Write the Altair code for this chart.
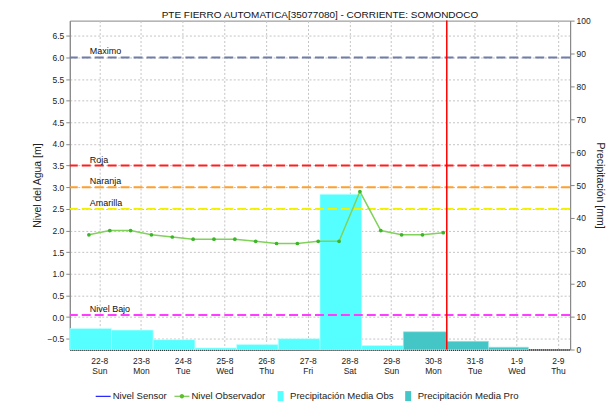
import altair as alt
import pandas as pd

TITLE = "PTE FIERRO AUTOMATICA[35077080] - CORRIENTE: SOMONDOCO"
FONT = "Liberation Sans"

# Nivel Observador (m), readings at 06:00 / 18:00
obs_times = ["2021-08-21T18:00:00Z", "2021-08-22T06:00:00Z", "2021-08-22T18:00:00Z",
             "2021-08-23T06:00:00Z", "2021-08-23T18:00:00Z", "2021-08-24T06:00:00Z",
             "2021-08-24T18:00:00Z", "2021-08-25T06:00:00Z", "2021-08-25T18:00:00Z",
             "2021-08-26T06:00:00Z", "2021-08-26T18:00:00Z", "2021-08-27T06:00:00Z",
             "2021-08-27T18:00:00Z", "2021-08-28T06:00:00Z", "2021-08-28T18:00:00Z",
             "2021-08-29T06:00:00Z", "2021-08-29T18:00:00Z", "2021-08-30T06:00:00Z"]
obs_levels = [1.9, 2.0, 2.0, 1.9, 1.85, 1.8, 1.8, 1.8, 1.75, 1.7, 1.7, 1.75, 1.75,
              2.9, 2.0, 1.9, 1.9, 1.95]

# Precipitación Media Obs (mm)
pobs_start = ["2021-08-21T07:00:00Z", "2021-08-22T07:00:00Z", "2021-08-23T07:00:00Z",
              "2021-08-24T07:00:00Z", "2021-08-25T07:00:00Z", "2021-08-26T07:00:00Z",
              "2021-08-27T07:00:00Z", "2021-08-28T07:00:00Z"]
pobs_end = ["2021-08-22T07:00:00Z", "2021-08-23T07:00:00Z", "2021-08-24T07:00:00Z",
            "2021-08-25T07:00:00Z", "2021-08-26T07:00:00Z", "2021-08-27T07:00:00Z",
            "2021-08-28T07:00:00Z", "2021-08-29T07:00:00Z"]
pobs_mm = [6.4, 5.9, 3.0, 0.5, 1.5, 3.3, 47.2, 1.2]

# Precipitación Media Pro (mm)
ppro_start = ["2021-08-29T07:00:00Z", "2021-08-30T08:00:00Z", "2021-08-31T08:00:00Z"]
ppro_end = ["2021-08-30T08:00:00Z", "2021-08-31T08:00:00Z", "2021-09-01T07:00:00Z"]
ppro_mm = [5.4, 2.5, 0.7]

# Threshold levels (m)
thr_names = ["Maximo", "Roja", "Naranja", "Amarilla", "Nivel Bajo"]
thr_values = [6.0, 3.5, 3.0, 2.5, 0.05]
thr_colors = ["#6F7DA8", "#FF1E1E", "#FF9F2E", "#F2F200", "#FF3CFF"]

now_time = ["2021-08-30T08:00:00Z"]

tick_days = [(2021, 8, 22), (2021, 8, 23), (2021, 8, 24), (2021, 8, 25), (2021, 8, 26),
             (2021, 8, 27), (2021, 8, 28), (2021, 8, 29), (2021, 8, 30), (2021, 8, 31),
             (2021, 9, 1), (2021, 9, 2)]
x_start = (2021, 8, 21, 7)
x_end = (2021, 9, 2, 7)

left_ticks = [-0.5, 0.0, 0.5, 1.0, 1.5, 2.0, 2.5, 3.0, 3.5, 4.0, 4.5, 5.0, 5.5, 6.0, 6.5]
left_domain = [-0.75, 6.85]
right_ticks = [0, 10, 20, 30, 40, 50, 60, 70, 80, 90, 100]
right_domain = [0, 100]

legend_names = ["Nivel Sensor", "Nivel Observador", "Precipitación Media Obs",
                "Precipitación Media Pro"]
legend_colors = ["#0000FF", "#5CC02E", "#55FFFF", "#45C6C6"]
LINE = "M-1,-0.07L1,-0.07L1,0.07L-1,0.07Z"
LINEDOT = ("M-1,-0.07L1,-0.07L1,0.07L-1,0.07Z "
           "M0.3,0A0.3,0.3,0,1,1,-0.3,0A0.3,0.3,0,1,1,0.3,0Z")
BOX = "M-0.4,-0.67L0.4,-0.67L0.4,0.67L-0.4,0.67Z"
legend_shapes = [LINE, LINEDOT, BOX, BOX]

# ---------------------------------------------------------------
xscale = alt.Scale(type="utc", domain=[
    alt.DateTime(year=x_start[0], month=x_start[1], date=x_start[2], hours=x_start[3], utc=True),
    alt.DateTime(year=x_end[0], month=x_end[1], date=x_end[2], hours=x_end[3], utc=True)])
xaxis = alt.Axis(
    values=[alt.DateTime(year=y, month=m, date=d, utc=True) for (y, m, d) in tick_days],
    labelExpr="[utcFormat(datum.value, '%-d-%-m'), utcFormat(datum.value, '%a')]",
    title=None, ticks=False, grid=True, labelBaseline="top", labelPadding=7,
    labelLineHeight=10, domainDash=[1, 1], domainColor="#333333", domainWidth=2,
    labelFontSize=8.5)


def X(field):
    return alt.X(field, type="temporal", scale=xscale, axis=xaxis)


ylscale = alt.Scale(domain=left_domain, nice=False, zero=False)
ylaxis = alt.Axis(orient="left", values=left_ticks, format=".1f", title="Nivel del Agua [m]",
                  grid=True, tickSize=4, labelPadding=2, titlePadding=5)


def YL(field):
    return alt.Y(field, type="quantitative", scale=ylscale, axis=ylaxis)


yrscale = alt.Scale(domain=right_domain, nice=False)
yraxis = alt.Axis(orient="right", values=right_ticks, title="Precipitación [mm]",
                  grid=False, tickSize=4, labelPadding=2, titlePadding=4, titleAngle=90)


def YR(field):
    return alt.Y(field, type="quantitative", scale=yrscale, axis=yraxis)


obs_df = pd.DataFrame({"start": pobs_start, "end": pobs_end, "mm": pobs_mm})
pro_df = pd.DataFrame({"start": ppro_start, "end": ppro_end, "mm": ppro_mm})
lvl_df = pd.DataFrame({"t": obs_times, "level": obs_levels})
thr_df = pd.DataFrame({"name": thr_names, "value": thr_values})
now_df = pd.DataFrame({"t": now_time})
leg_df = pd.DataFrame({"name": legend_names})

bars_obs = alt.Chart(obs_df).mark_bar(color="#55FFFF", stroke="#C8FFFF", strokeWidth=0.6).encode(
    x=X("start"), x2=alt.X2("end"), y=YR("mm"), y2=alt.Y2Datum(0))
bars_pro = alt.Chart(pro_df).mark_bar(color="#45C6C6", stroke="#9EE6E6", strokeWidth=0.6).encode(
    x=X("start"), x2=alt.X2("end"), y=YR("mm"), y2=alt.Y2Datum(0))
right = alt.layer(bars_obs, bars_pro)

left_layers = []
for nm, val, col in zip(thr_names, thr_values, thr_colors):
    d = thr_df[thr_df["name"] == nm]
    left_layers.append(alt.Chart(d).mark_rule(color=col, strokeWidth=2, strokeDash=[9, 4]).encode(
        y=YL("value")))

texts = alt.Chart(thr_df).mark_text(align="left", baseline="bottom", dy=-1, fontSize=9,
                                    font=FONT, color="#111111").encode(
    x=alt.value(20), y=YL("value"), text="name:N")

line = alt.Chart(lvl_df).mark_line(color="#80D25A", strokeWidth=1.5).encode(x=X("t"), y=YL("level"))
pts = alt.Chart(lvl_df).mark_point(filled=True, size=14, color="#3DB52B", opacity=1).encode(
    x=X("t"), y=YL("level"))
now_rule = alt.Chart(now_df).mark_rule(color="#FF0000", strokeWidth=1.5).encode(x=X("t"))

leg_props = dict(orient="none", legendX=26, legendY=369, direction="horizontal", columns=4,
                 title=None, symbolSize=225, labelFontSize=9.6, labelFont=FONT,
                 labelColor="#222222", labelOffset=2, columnPadding=7, symbolStrokeWidth=0,
                 padding=0)
legend_layer = alt.Chart(leg_df).mark_point(filled=True, clip=True, opacity=1).encode(
    x=alt.value(-200), y=alt.value(-200),
    color=alt.Color("name:N", scale=alt.Scale(domain=legend_names, range=legend_colors),
                    legend=alt.Legend(**leg_props)),
    shape=alt.Shape("name:N", scale=alt.Scale(domain=legend_names, range=legend_shapes),
                    legend=alt.Legend(**leg_props)))

left = alt.layer(*left_layers, texts, line, pts, now_rule, legend_layer)

chart = alt.layer(right, left).resolve_scale(y="independent").properties(
    width=502, height=330,
    padding={"left": 62, "top": 12, "right": 37, "bottom": 54},
    autosize=alt.AutoSizeParams(type="none"),
    title=alt.TitleParams(TITLE, fontSize=10, font=FONT, fontWeight="normal", color="#111111",
                          anchor="middle", offset=0, dy=3),
).configure_view(stroke="#888888", strokeWidth=1).configure_axis(
    labelFont=FONT, titleFont=FONT, labelFontSize=8.5, titleFontSize=10.5,
    titleFontWeight="normal", labelColor="#222222", titleColor="#222222",
    domainColor="#888888", tickColor="#888888", gridColor="#C4C4C4", gridDash=[2, 2],
    gridWidth=1)

chart.save("out.html", embed_options={"renderer": "svg", "actions": False})
